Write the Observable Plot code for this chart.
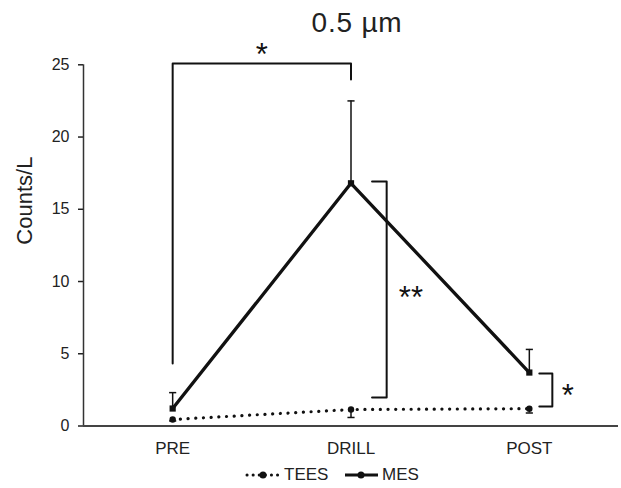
<!DOCTYPE html>
<html>
<head>
<meta charset="utf-8">
<script src="https://cdn.jsdelivr.net/npm/d3@7"></script>
<script src="https://cdn.jsdelivr.net/npm/@observablehq/plot@0.6"></script>
<style>
  html, body { margin: 0; padding: 0; background: #fff; }
  body { width: 621px; height: 488px; overflow: hidden; font-family: "Liberation Sans", Arial, sans-serif; color: #222; }
  #title { height: 34px; line-height: 46px; font-size: 28px; letter-spacing: 0.8px; padding-left: 93px; text-align: center; width: 528px; overflow: visible; }
  #legend { position: relative; height: 26px; font-size: 17px; }
  #legend .item { position: absolute; top: 0; height: 26px; line-height: 26px; }
  #legend svg { position: absolute; top: 0; }
</style>
</head>
<body>
<div id="title">0.5 µm</div>
<div id="chart"></div>
<div id="legend"></div>
<script>
// ---- data ----
const categories = ["PRE", "DRILL", "POST"];
const mesValues = [1.21, 16.8, 3.7];
const mesErrors = [1.1, 5.7, 1.6];     // drawn upward
const teesValues = [0.45, 1.14, 1.2];
const teesErrors = [0.1, 0.55, 0.3];   // drawn downward
const yTicks = [0, 5, 10, 15, 20, 25];

// significance brackets (x in category index units, y in Counts/L)
const bracketPreDrill = [[0, 4.33], [0, 25.09], [1, 25.09], [1, 23.98]];
const bracketDrill = [[1.118, 16.92], [1.2, 16.92], [1.2, 1.97], [1.118, 1.97]];
const bracketPost = [[2.056, 3.63], [2.129, 3.63], [2.129, 1.35], [2.056, 1.35]];
const starLabels = ["*", "**", "*"];
const starX = [0.5, 1.336, 2.215];
const starY = [26.1, 9.24, 2.46];

const rows = categories.map((c, i) => ({
  i, c,
  mes: mesValues[i], mesErr: mesErrors[i],
  tees: teesValues[i], teesErr: teesErrors[i]
}));
const brackets = [
  ...bracketPreDrill.map(([x, y]) => ({id: "a", x, y})),
  ...bracketDrill.map(([x, y]) => ({id: "b", x, y})),
  ...bracketPost.map(([x, y]) => ({id: "c", x, y}))
];
const stars = starLabels.map((t, k) => ({t, x: starX[k], y: starY[k]}));
const capHalf = 0.02;

const chart = Plot.plot({
  width: 621,
  height: 428,
  marginLeft: 83,
  marginRight: 3,
  marginTop: 30.3,
  marginBottom: 36.5,
  style: {fontFamily: "Liberation Sans, Arial, sans-serif", color: "#222", background: "transparent"},
  x: {domain: [-0.5, 2.5]},
  y: {domain: [0, 25]},
  marks: [
    Plot.axisY({ticks: yTicks, tickSize: 5, tickPadding: 9, fontSize: 16, label: null, strokeWidth: 1.5}),
    Plot.axisX({ticks: [0, 1, 2], tickFormat: i => categories[i], tickSize: 0, tickPadding: 15.5, fontSize: 17, label: null}),
    Plot.ruleX([-0.5], {y1: 0, y2: 25, stroke: "#333", strokeWidth: 1.5}),
    Plot.ruleY([0], {x1: -0.5, x2: 2.5, stroke: "#444", strokeWidth: 2}),
    Plot.text(["Counts/L"], {x: -0.5, y: 15.6, dx: -59, rotate: -90, text: d => d, fontSize: 22, fill: "#222"}),
    // brackets
    Plot.line(brackets, {x: "x", y: "y", z: "id", stroke: "#111", strokeWidth: 2}),
    Plot.text(stars, {x: "x", y: "y", text: "t", fontSize: 31, dy: 6, fill: "#111"}),
    // TEES
    Plot.line(rows, {x: "i", y: "tees", stroke: "#111", strokeWidth: 3.2, strokeDasharray: "0.1,7.6", strokeLinecap: "round"}),
    Plot.ruleX(rows, {x: "i", y1: "tees", y2: d => d.tees - d.teesErr, stroke: "#111", strokeWidth: 1.5}),
    Plot.link(rows, {x1: d => d.i - capHalf, x2: d => d.i + capHalf, y1: d => d.tees - d.teesErr, y2: d => d.tees - d.teesErr, stroke: "#111", strokeWidth: 1.5}),
    Plot.dot(rows, {x: "i", y: "tees", r: 3.2, fill: "#111"}),
    // MES
    Plot.line(rows, {x: "i", y: "mes", stroke: "#111", strokeWidth: 3.3}),
    Plot.ruleX(rows, {x: "i", y1: "mes", y2: d => d.mes + d.mesErr, stroke: "#111", strokeWidth: 1.5}),
    Plot.link(rows, {x1: d => d.i - capHalf, x2: d => d.i + capHalf, y1: d => d.mes + d.mesErr, y2: d => d.mes + d.mesErr, stroke: "#111", strokeWidth: 1.5}),
    Plot.dot(rows, {x: "i", y: "mes", r: 3.5, symbol: "square", fill: "#111"})
  ]
});
document.getElementById("chart").appendChild(chart);

// legend below the chart
const legend = document.getElementById("legend");
const series = [
  {name: "TEES", dash: "0.1,6", cap: "round", left: 245},
  {name: "MES", dash: null, cap: "butt", left: 343}
];
series.forEach(s => {
  const sw = d3.create("svg").attr("width", 36).attr("height", 26).style("left", s.left + "px");
  sw.append("line").attr("x1", 2).attr("x2", 35).attr("y1", 13).attr("y2", 13)
    .attr("stroke", "#111").attr("stroke-width", 3).attr("stroke-dasharray", s.dash)
    .attr("stroke-linecap", s.cap);
  sw.append("circle").attr("cx", 18).attr("cy", 13).attr("r", 3.5).attr("fill", "#111");
  legend.appendChild(sw.node());
  const t = document.createElement("div");
  t.className = "item";
  t.style.left = (s.left + 39) + "px";
  t.textContent = s.name;
  legend.appendChild(t);
});
</script>
</body>
</html>
